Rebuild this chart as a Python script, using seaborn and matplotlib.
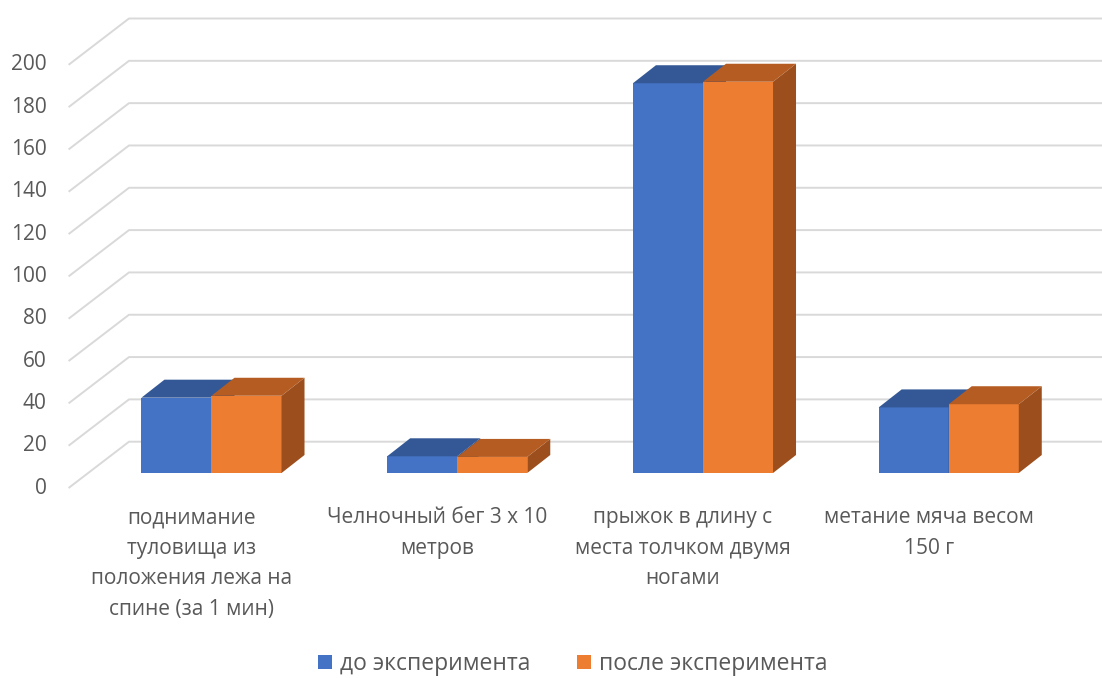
import matplotlib
matplotlib.use("Agg")
import matplotlib.pyplot as plt
from matplotlib.patches import Polygon
import pandas as pd
import seaborn as sns

# Test results before and after the experiment
categories = [
    "поднимание\nтуловища из\nположения лежа на\nспине (за 1 мин)",
    "Челночный бег 3 х 10\nметров",
    "прыжок в длину с\nместа толчком двумя\nногами",
    "метание мяча весом\n150 г",
]
series = ["до эксперимента", "после эксперимента"]
before = [35.6, 7.9, 184.2, 31.0]
after = [36.5, 7.6, 184.9, 32.5]
y_ticks = [0, 20, 40, 60, 80, 100, 120, 140, 160, 180, 200]

front_colors = ["#4472C4", "#ED7D31"]
top_colors = ["#345895", "#B55C22"]
side_colors = ["#2C4B80", "#9C4F1C"]
grid_color = "#D9D9D9"
text_color = "#595959"

sns.set_theme(style="white")
plt.rcParams["font.family"] = ["Open Sans", "DejaVu Sans"]

W, H = 1102, 678
fig = plt.figure(figsize=(W / 100, H / 100), dpi=100)
ax = fig.add_axes([88.6 / W, 205 / H, 983 / W, 423.2 / H])

df = pd.DataFrame({
    "category": categories * 2,
    "value": before + after,
    "series": [series[0]] * len(categories) + [series[1]] * len(categories),
})
sns.barplot(data=df, x="category", y="value", hue="series", order=categories,
            hue_order=series, palette=front_colors, saturation=1, width=0.57,
            errorbar=None, linewidth=0, ax=ax)
ax.set_xlim(-0.5, len(categories) - 0.5)
ax.set_ylim(0, 200)
ax.set_axis_off()


def shift(x, y, dx, dy):
    """Move a data point by (dx, dy) output pixels, returning data coords."""
    X, Y = ax.transData.transform((x, y))
    return ax.transData.inverted().transform((X + dx, Y + dy))


# depth offsets (pixels) of the oblique projection
BAR_D = (23, 18)          # depth of each bar
FLOOR_FRONT = (-20, -15)  # labelled front edge of the side wall
BACK_WALL = (40.4, 31.3)  # back wall plane

x_left, x_right = ax.get_xlim()
for v in y_ticks:
    p0 = shift(x_left, v, *FLOOR_FRONT)
    p1 = shift(x_left, v, *BACK_WALL)
    p2 = shift(x_right, v, BACK_WALL[0] + 200, BACK_WALL[1])
    ax.plot([p0[0], p1[0], p2[0]], [p0[1], p1[1], p2[1]], color=grid_color,
            lw=1.4, clip_on=False, zorder=0.5, solid_capstyle="butt")
    tx, ty = shift(x_left, v, FLOOR_FRONT[0] - 22, FLOOR_FRONT[1])
    ax.text(tx, ty, str(v), ha="right", va="center", fontsize=15,
            color=text_color, clip_on=False)

for i, cat in enumerate(categories):
    tx, ty = shift(i, 0, FLOOR_FRONT[0], FLOOR_FRONT[1] - 19)
    ax.text(tx, ty, cat, ha="center", va="top", fontsize=15, color=text_color,
            linespacing=1.6, clip_on=False)

# Extrude the bars: top and right faces
for k, cont in enumerate(ax.containers):
    z = 1 + 2 * k
    for bar in cont:
        bar.set_zorder(z)
        x0, w, h = bar.get_x(), bar.get_width(), bar.get_height()
        top = [(x0, h), (x0 + w, h), shift(x0 + w, h, *BAR_D), shift(x0, h, *BAR_D)]
        side = [(x0 + w, 0), (x0 + w, h), shift(x0 + w, h, *BAR_D), shift(x0 + w, 0, *BAR_D)]
        ax.add_patch(Polygon(side, closed=True, facecolor=side_colors[k], lw=0,
                             zorder=z + 0.5, clip_on=False))
        ax.add_patch(Polygon(top, closed=True, facecolor=top_colors[k], lw=0,
                             zorder=z + 0.5, clip_on=False))

handles, labels = ax.get_legend_handles_labels()
if ax.legend_ is not None:
    ax.legend_.remove()
leg = fig.legend(handles, labels, loc="center", bbox_to_anchor=(573 / W, 14 / H),
                 ncol=2, frameon=False, fontsize=16.5, handlelength=0.59,
                 handleheight=0.59, handletextpad=0.37, columnspacing=2.05)
for t in leg.get_texts():
    t.set_color(text_color)

fig.savefig("out.png", dpi=100)
